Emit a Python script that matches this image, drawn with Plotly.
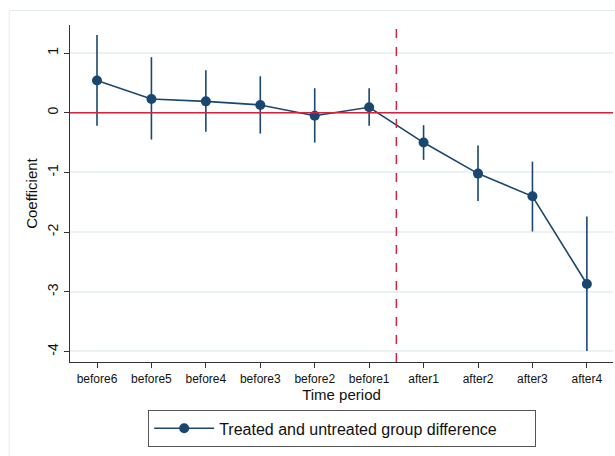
import plotly.graph_objects as go

# Event-study coefficients with 95% confidence bounds
periods = ["before6", "before5", "before4", "before3", "before2", "before1",
           "after1", "after2", "after3", "after4"]
coef = [0.54, 0.23, 0.19, 0.13, -0.05, 0.09, -0.50, -1.02, -1.40, -2.87]
ci_low = [-0.22, -0.45, -0.32, -0.35, -0.50, -0.22, -0.79, -1.48, -1.99, -3.99]
ci_high = [1.30, 0.93, 0.71, 0.61, 0.41, 0.41, -0.21, -0.55, -0.82, -1.74]
y_ticks = [1, 0, -1, -2, -3, -4]

navy = "#1a476f"
red = "#d0243f"
grid = "#eaf2f3"
font_family = "Liberation Sans, Arial, sans-serif"

err_plus = [h - c for h, c in zip(ci_high, coef)]
err_minus = [c - l for c, l in zip(coef, ci_low)]

fig = go.Figure()
fig.add_trace(go.Scatter(
    x=periods, y=coef, mode="lines+markers",
    name="Treated and untreated group difference",
    line=dict(color=navy, width=1.6),
    marker=dict(color=navy, size=10),
    error_y=dict(type="data", symmetric=False, array=err_plus,
                 arrayminus=err_minus, color=navy, thickness=1.6, width=0),
))

# Zero reference line and treatment onset marker
fig.add_shape(type="line", xref="paper", yref="y", x0=0, x1=1, y0=0, y1=0,
              line=dict(color=red, width=1.5), layer="above")
fig.add_shape(type="line", xref="x", yref="paper", x0=5.5, x1=5.5, y0=0, y1=0.988,
              line=dict(color=red, width=1.5, dash="dash"), layer="above")

# Light outer frame around the graph region
fig.add_shape(type="rect", xref="paper", yref="paper",
              x0=-0.112, x1=1.02, y0=-0.3, y1=1.043,
              line=dict(color="#e3ecee", width=1), layer="below")

fig.update_layout(
    width=615, height=456,
    margin=dict(l=70, r=2, t=25, b=94),
    paper_bgcolor="white", plot_bgcolor="white",
    font=dict(family=font_family, color="#111111"),
    showlegend=True,
    legend=dict(
        orientation="h",
        x=0.1436, y=-0.143, xanchor="left", yanchor="top",
        bordercolor="#555555", borderwidth=1.2,
        font=dict(size=16, family=font_family),
        entrywidth=310, itemwidth=60,
    ),
)

fig.update_xaxes(
    type="category", range=[-0.496, 9.48],
    showline=True, linecolor="#333333", linewidth=1.2,
    ticks="outside", ticklen=5, tickcolor="#333333",
    tickfont=dict(size=12), showgrid=False, zeroline=False,
    title=dict(text="Time period", font=dict(size=15), standoff=0),
)
fig.update_yaxes(
    range=[-4.176, 1.469],
    tickvals=y_ticks, ticktext=[str(v) for v in y_ticks],
    tickangle=-90,
    showline=True, linecolor="#333333", linewidth=1.2,
    ticks="outside", ticklen=5, tickcolor="#333333",
    tickfont=dict(size=14), showgrid=True, gridcolor=grid, gridwidth=1.5,
    zeroline=False,
    title=dict(text="Coefficient", font=dict(size=15), standoff=4),
)

fig.write_html("out.html")
